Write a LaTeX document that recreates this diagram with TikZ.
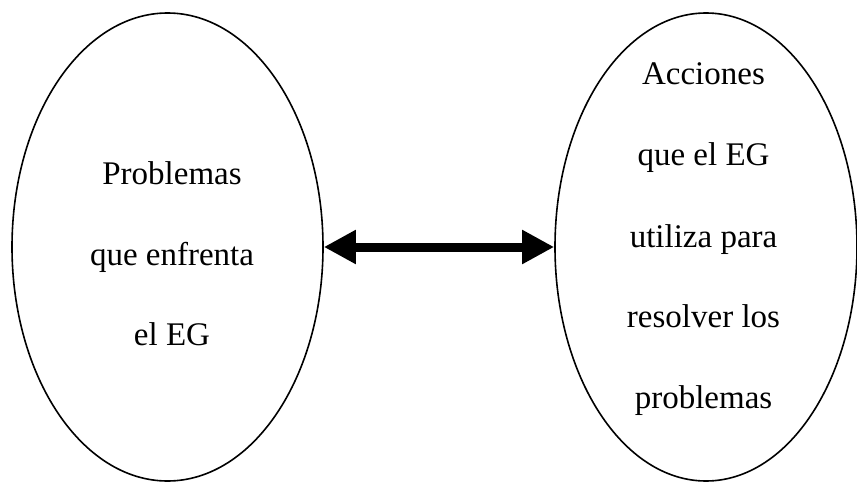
\documentclass[tikz,border=0pt]{standalone}
\usepackage{fontspec}
\setmainfont{Liberation Serif}
\usetikzlibrary{shapes.geometric,arrows.meta}
\begin{document}
\begin{tikzpicture}[x=1pt,y=1pt,
  oval/.style={draw=black,line width=1.6pt,ellipse,inner sep=0pt},
  word/.style={anchor=base,inner sep=0pt,font=\fontsize{33}{40}\selectfont},
  link/.style={line width=9pt,{Triangle[length=32pt,width=32pt]}-{Triangle[length=32pt,width=32pt]}}]
  \useasboundingbox (0,0) rectangle (857,483);
  % the two ovals
  \node[oval,minimum width=311pt,minimum height=468pt] (L) at (167.5,236) {};
  \node[oval,minimum width=302pt,minimum height=468pt] (R) at (706,236) {};
  % text of the left oval
  \node[word] (l1) at (172,299) {Problemas};
  \node[word] (l2) at (172,218) {que enfrenta};
  \node[word] (l3) at (172,138) {el EG};
  % text of the right oval
  \node[word] (r1) at (703.5,398) {Acciones};
  \node[word] (r2) at (703.5,317) {que el EG};
  \node[word] (r3) at (703.5,236) {utiliza para};
  \node[word] (r4) at (703.5,156) {resolver los};
  \node[word] (r5) at (703.5,75) {problemas};
  % double-headed link
  \draw[link] (L.east) -- (R.west);
\end{tikzpicture}
\end{document}
